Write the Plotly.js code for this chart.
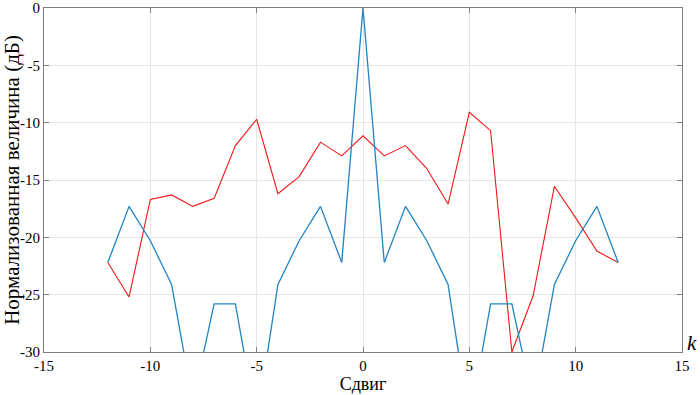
<!DOCTYPE html>
<html>
<head>
<meta charset="utf-8">
<script src="https://cdn.plot.ly/plotly-3.0.1.min.js"></script>
<style>html,body{margin:0;padding:0;background:#fff;}#chart{width:700px;height:395px;}</style>
</head>
<body>
<div id="chart"></div>
<script>
const shifts = [-12,-11,-10,-9,-8,-7,-6,-5,-4,-3,-2,-1,0,1,2,3,4,5,6,7,8,9,10,11,12];
const blueValues = [-22.2,-17.3,-20.3,-24.1,-34.4,-25.8,-25.8,-36.3,-24.1,-20.3,-17.3,-22.2,0,-22.2,-17.3,-20.3,-24.1,-36.3,-25.8,-25.8,-34.4,-24.1,-20.3,-17.3,-22.2];
const redValues = [-22.2,-25.2,-16.7,-16.3,-17.3,-16.6,-12.0,-9.7,-16.2,-14.7,-11.7,-12.9,-11.15,-12.9,-12.0,-14.0,-17.1,-9.1,-10.7,-30.0,-25.1,-15.55,-18.3,-21.2,-22.2];
const xTicks = [-15,-10,-5,0,5,10,15];
const xTickText = ['-15','-10','-5','0','5','10','15'];
const yTicks = [-30,-25,-20,-15,-10,-5,0];
const yTickText = ['-30','-25','-20','-15','-10','-5','0'];

const serif = '"Liberation Serif", "Times New Roman", serif';
const data = [
  {x: shifts, y: redValues, type: 'scatter', mode: 'lines', line: {color: '#f01818', width: 1.1}, hoverinfo: 'skip'},
  {x: shifts, y: blueValues, type: 'scatter', mode: 'lines', line: {color: '#2184c4', width: 1.3}, hoverinfo: 'skip'}
];
const layout = {
  width: 700, height: 395,
  margin: {l: 44, r: 18, t: 8, b: 43},
  paper_bgcolor: '#fff', plot_bgcolor: '#fff',
  showlegend: false,
  font: {family: serif, size: 15, color: '#000'},
  xaxis: {
    range: [-15, 15], tickvals: xTicks, ticktext: xTickText,
    showgrid: true, gridcolor: '#e6e6e6', gridwidth: 1, zeroline: false,
    showline: true, linecolor: '#7f7f7f', linewidth: 1, mirror: 'ticks',
    ticks: 'inside', ticklen: 5, tickcolor: '#7f7f7f',
    tickfont: {family: serif, size: 15, color: '#000'},
    ticklabeloverflow: 'allow',
    title: {text: 'Сдвиг', font: {family: serif, size: 18, color: '#000'}, standoff: 3},
    automargin: false
  },
  yaxis: {
    range: [-30, 0], tickvals: yTicks, ticktext: yTickText,
    showgrid: true, gridcolor: '#e6e6e6', gridwidth: 1, zeroline: false,
    showline: true, linecolor: '#7f7f7f', linewidth: 1, mirror: 'ticks',
    ticks: 'inside', ticklen: 5, tickcolor: '#7f7f7f',
    tickfont: {family: serif, size: 15, color: '#000'},
    ticklabeloverflow: 'allow',
    title: {text: 'Нормализованная величина (дБ)', font: {family: serif, size: 21, color: '#000'}, standoff: 4},
    automargin: false
  },
  annotations: [
    {text: '<i>k</i>', xref: 'paper', yref: 'paper', x: 1.0, y: 0.0, xanchor: 'left', yanchor: 'bottom', xshift: 3, yshift: -5, showarrow: false, font: {family: serif, size: 21, color: '#000'}}
  ]
};
Plotly.newPlot('chart', data, layout, {displayModeBar: false, staticPlot: true});
</script>
</body>
</html>
